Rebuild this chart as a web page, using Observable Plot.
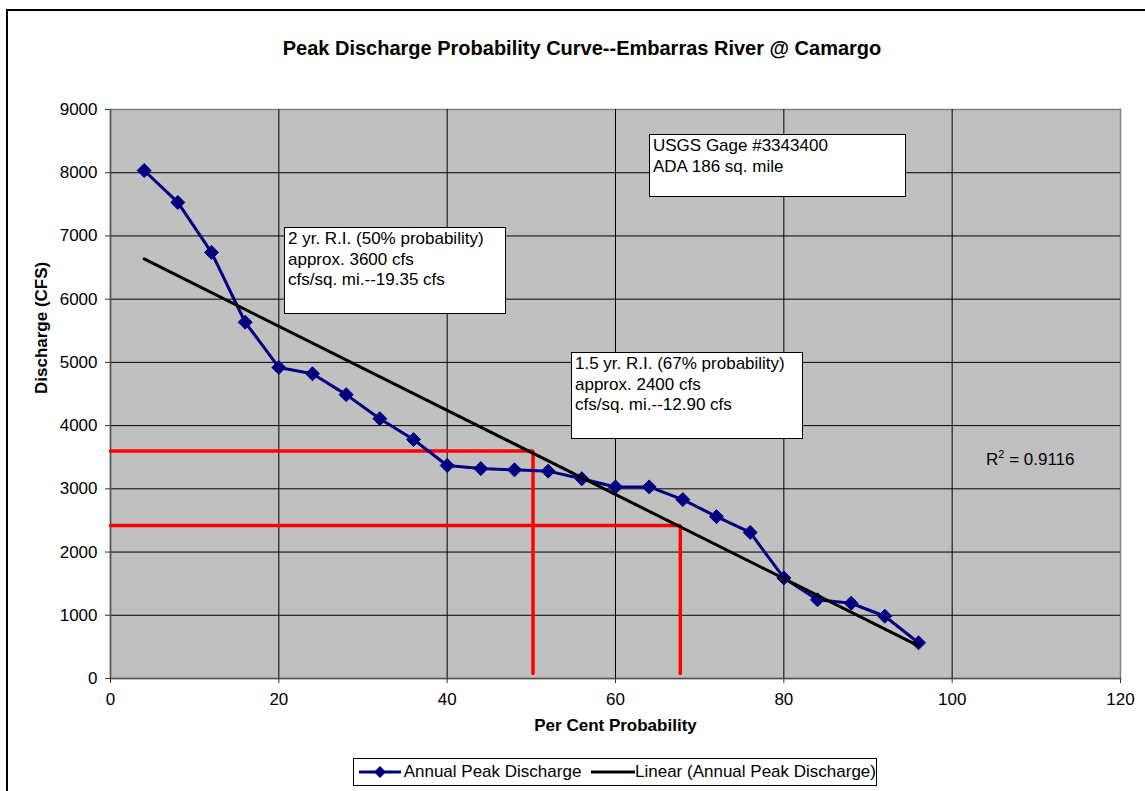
<!DOCTYPE html>
<html>
<head>
<meta charset="utf-8">
<script src="https://cdn.jsdelivr.net/npm/d3@7"></script>
<script src="https://cdn.jsdelivr.net/npm/@observablehq/plot@0.6"></script>
<style>
  html, body { margin: 0; padding: 0; background: #fff; }
  #wrap { position: relative; width: 1145px; height: 791px; overflow: hidden; background: #fff; font-family: Arial, "Liberation Sans", sans-serif; }
  #frame { position: absolute; left: 6px; top: 9px; width: 1170px; height: 820px; border: 2px solid #000; box-sizing: border-box; }
  #title { position: absolute; left: 0; top: 36px; width: 1164px; text-align: center; font-weight: bold; font-size: 20px; line-height: 24px; color: #000; }
  #chart { position: absolute; left: 0; top: 0; }
  .note { position: absolute; background: #fff; border: 1px solid #000; box-sizing: border-box; font-size: 17px; line-height: 20.5px; padding: 1px 0 0 3px; color: #000; white-space: nowrap; }
  #r2 { position: absolute; left: 986px; top: 449px; font-size: 17px; line-height: 22px; color: #000; }
  #r2 sup { font-size: 11px; vertical-align: 7px; line-height: 0; }
  #legend { position: absolute; left: 353px; top: 758px; width: 524px; height: 28px; border: 1px solid #000; box-sizing: border-box; font-size: 17px; display: flex; align-items: center; padding-left: 4px; color: #000; white-space: nowrap; }
  #legend svg { display: block; }
</style>
</head>
<body>
<div id="wrap">
  <div id="frame"></div>
  <div id="chart"></div>
  <div id="title"></div>
  <div id="notes"></div>
  <div id="r2"></div>
  <div id="legend"></div>
</div>
<script>
// ---- data ----
const probability = [4, 8, 12, 16, 20, 24, 28, 32, 36, 40, 44, 48, 52, 56, 60, 64, 68, 72, 76, 80, 84, 88, 92, 96];
const discharge = [8035, 7530, 6740, 5635, 4920, 4820, 4490, 4110, 3780, 3370, 3320, 3300, 3280, 3160, 3030, 3030, 2830, 2560, 2310, 1590, 1245, 1190, 985, 565];
const refProbability = [50.2, 67.7];
const refDischarge = [3600, 2420];
const refBottom = 80;
const xTicks = [0, 20, 40, 60, 80, 100, 120];
const yTicks = [0, 1000, 2000, 3000, 4000, 5000, 6000, 7000, 8000, 9000];

const titleText = "Peak Discharge Probability Curve--Embarras River @ Camargo";
const xLabel = "Per Cent Probability";
const yLabel = "Discharge (CFS)";
const seriesName = "Annual Peak Discharge";
const trendName = "Linear (Annual Peak Discharge)";
const r2Text = "0.9116";
const noteTexts = [
  ["USGS Gage #3343400", "ADA 186 sq. mile"],
  ["2 yr. R.I. (50% probability)", "approx. 3600 cfs", "cfs/sq. mi.--19.35 cfs"],
  ["1.5 yr. R.I. (67% probability)", "approx. 2400 cfs", "cfs/sq. mi.--12.90 cfs"]
];

const points = probability.map((p, i) => ({p, q: discharge[i]}));
const refLines = refProbability.map((p, i) => [
  {p: 0, q: refDischarge[i]},
  {p: p, q: refDischarge[i]},
  {p: p, q: refBottom}
]);

const navy = "#000080";

const chart = Plot.plot({
  width: 1145,
  height: 750,
  marginLeft: 110,
  marginRight: 25,
  marginTop: 109,
  marginBottom: 72,
  style: {fontFamily: "Arial, 'Liberation Sans', sans-serif", fontSize: "17px", background: "transparent", color: "#000"},
  x: {domain: [0, 120]},
  y: {domain: [0, 9000]},
  marks: [
    Plot.frame({fill: "#c0c0c0", stroke: "#808080", strokeWidth: 1.5}),
    Plot.gridX(xTicks.filter(d => d > 0 && d < 120), {stroke: "#000", strokeOpacity: 1, strokeWidth: 1}),
    Plot.gridY(yTicks.filter(d => d > 0 && d < 9000), {stroke: "#000", strokeOpacity: 1, strokeWidth: 1}),
    Plot.ruleX([0], {stroke: "#555", strokeWidth: 1.5}),
    Plot.ruleY([0], {stroke: "#555", strokeWidth: 1.5}),
    Plot.axisX({ticks: xTicks, tickSize: 5, tickPadding: 9, tickFormat: d => String(d), label: null, fontSize: 17, stroke: "#333"}),
    Plot.axisY({ticks: yTicks, tickSize: 5, tickPadding: 8, tickFormat: d => String(d), label: null, fontSize: 17, stroke: "#333"}),
    ...refLines.map(seg => Plot.line(seg, {x: "p", y: "q", stroke: "#ff0000", strokeWidth: 3.5, strokeLinejoin: "miter"})),
    Plot.line(points, {x: "p", y: "q", stroke: navy, strokeWidth: 3}),
    Plot.dot(points, {x: "p", y: "q", symbol: "diamond2", r: 6.3, fill: navy, stroke: navy, strokeWidth: 1}),
    Plot.linearRegressionY(points, {x: "p", y: "q", ci: 0, stroke: "#000", strokeWidth: 3}),
    Plot.text([yLabel], {frameAnchor: "left", dx: -69, rotate: -90, fontWeight: "bold", fontSize: 17}),
    Plot.text([xLabel], {frameAnchor: "bottom", dy: 52, fontWeight: "bold", fontSize: 17})
  ]
});
document.getElementById("chart").appendChild(chart);
document.getElementById("title").textContent = titleText;

// notes (text boxes)
const noteBoxes = [
  {left: 649, top: 134, width: 257, height: 63},
  {left: 284, top: 227, width: 222, height: 87},
  {left: 571, top: 352, width: 232, height: 87}
];
const notesEl = document.getElementById("notes");
noteTexts.forEach((lines, i) => {
  const d = document.createElement("div");
  d.className = "note";
  const b = noteBoxes[i];
  d.style.left = b.left + "px";
  d.style.top = b.top + "px";
  d.style.width = b.width + "px";
  d.style.height = b.height + "px";
  d.innerHTML = lines.map(t => t.replace(/&/g, "&amp;").replace(/</g, "&lt;")).join("<br>");
  notesEl.appendChild(d);
});

document.getElementById("r2").innerHTML = "R<sup>2</sup> = " + r2Text;

// legend
const leg = document.getElementById("legend");
leg.innerHTML =
  `<svg width="44" height="14"><line x1="1" y1="7" x2="43" y2="7" stroke="${navy}" stroke-width="3"/><path d="M22,1 L28,7 L22,13 L16,7 Z" fill="${navy}"/></svg>` +
  `<span style="margin-left:2px">${seriesName}</span>` +
  `<svg width="44" height="14" style="margin-left:10px"><line x1="0" y1="7" x2="44" y2="7" stroke="#000" stroke-width="3"/></svg>` +
  `<span>${trendName}</span>`;
</script>
</body>
</html>
